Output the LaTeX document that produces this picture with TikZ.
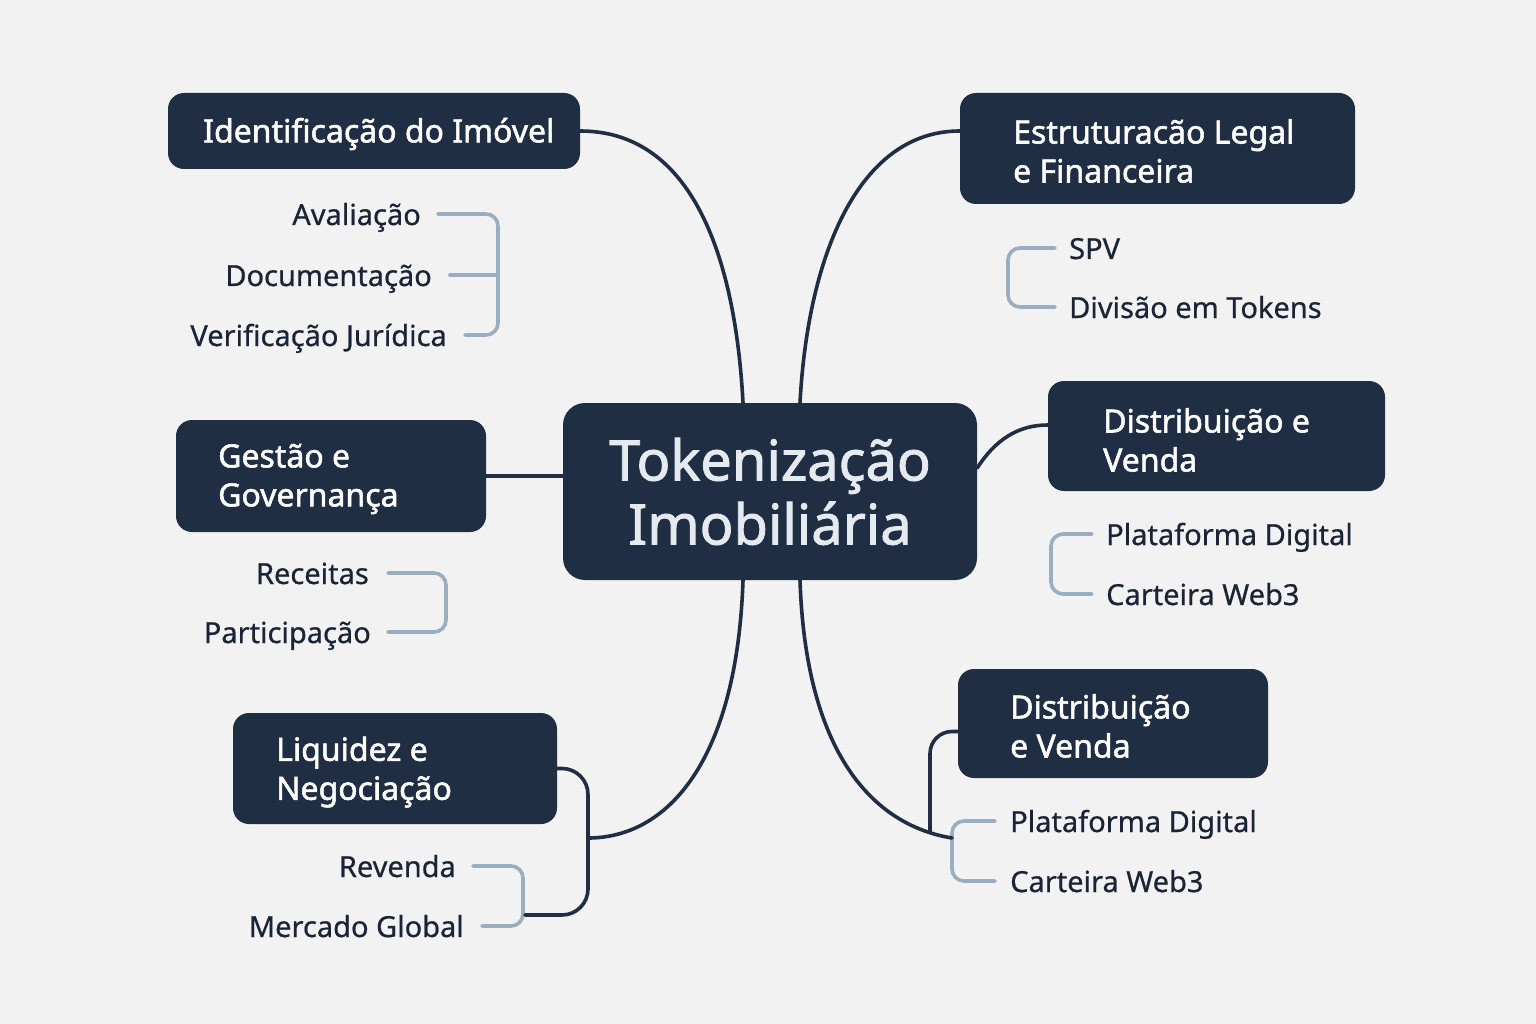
\documentclass[tikz,border=0pt]{standalone}
\usepackage{fontspec}
\setmainfont{Noto Sans}
\newfontfamily\topicfont{Noto Sans}[FakeBold=1.6]
\newfontfamily\leaffont{Noto Sans}[FakeBold=0.6]
\usetikzlibrary{calc}

\definecolor{navy}{HTML}{1F2E42}
\definecolor{hubtext}{HTML}{E4EAEF}
\definecolor{slate}{HTML}{9AAEC1}
\definecolor{ink}{HTML}{1A2436}
\definecolor{paper}{HTML}{F2F2F2}

\begin{document}
\begin{tikzpicture}[x=1pt,y=-1pt,
  hub/.style={fill=navy, rounded corners=22, text=hubtext, align=center, inner sep=0,
    minimum width=414, minimum height=177, font=\topicfont\fontsize{56}{64}\selectfont},
  topic/.style={fill=navy, rounded corners=16, inner sep=0},
  topictext/.style={text=white, align=left, anchor=west, inner sep=0,
    font=\topicfont\fontsize{32}{39}\selectfont},
  leaf/.style={text=ink, inner sep=0, text height=25, text depth=3,
    font=\leaffont\fontsize{29}{34}\selectfont},
  link/.style={draw=navy, line width=3.6, line cap=round},
  brk/.style={draw=slate, line width=3.6, rounded corners=12, line cap=round}]

\fill[paper] (0,0) rectangle (1536,1024);
\useasboundingbox (0,0) rectangle (1536,1024);

% hub
\node[hub] (ctr) at (770,491.5) {Tokenização\\Imobiliária};

% topics
\node[topic, minimum width=412, minimum height=76]  (idn) at (374,131)    {};
\node[topic, minimum width=395, minimum height=111] (str) at (1157.5,148.5) {};
\node[topic, minimum width=337, minimum height=110] (dsa) at (1216.5,436) {};
\node[topic, minimum width=310, minimum height=112] (ges) at (331,476)    {};
\node[topic, minimum width=324, minimum height=111] (liq) at (395,768.5)  {};
\node[topic, minimum width=310, minimum height=109] (dsb) at (1113,723.5) {};

\node[topictext] (idn-t) at (203,134)  {Identificação do Imóvel};
\node[topictext] (str-t) at (1013,151) {Estruturacão Legal\\e Financeira};
\node[topictext] (dsa-t) at (1103,440) {Distribuição e\\Venda};
\node[topictext] (ges-t) at (218,479)  {Gestão e\\Governança};
\node[topictext] (liq-t) at (276,772)  {Liquidez e\\Negociação};
\node[topictext] (dsb-t) at (1010,726) {Distribuição\\e Venda};

% leaves
\node[leaf, anchor=base east] (ava) at (421,225)  {Avaliação};
\node[leaf, anchor=base east] (doc) at (432,286)  {Documentação};
\node[leaf, anchor=base east] (ver) at (447,346)  {Verificação Jurídica};
\node[leaf, anchor=base west] (spv) at (1069,259) {SPV};
\node[leaf, anchor=base west] (tok) at (1069,318) {Divisão em Tokens};
\node[leaf, anchor=base west] (pla) at (1106,545) {Plataforma Digital};
\node[leaf, anchor=base west] (car) at (1106,605) {Carteira Web3};
\node[leaf, anchor=base east] (rec) at (369,584)  {Receitas};
\node[leaf, anchor=base east] (par) at (371,643)  {Participação};
\node[leaf, anchor=base east] (rev) at (456,877)  {Revenda};
\node[leaf, anchor=base east] (mer) at (464,937)  {Mercado Global};
\node[leaf, anchor=base west] (plb) at (1010,832) {Plataforma Digital};
\node[leaf, anchor=base west] (cab) at (1010,892) {Carteira Web3};

% brackets
\coordinate (idnb) at ([xshift=51]ver.east);
\draw[brk] ([xshift=17]ava.east) -| (idnb) -- ([xshift=18]ver.east);
\draw[brk] ([xshift=18]doc.east) -- (idnb |- doc.east);
\draw[brk] ([xshift=-14]spv.west) -| ([xshift=-61]tok.west) -- ([xshift=-14]tok.west);
\draw[brk] ([xshift=-14]pla.west) -| ([xshift=-55]car.west) -- ([xshift=-14]car.west);
\draw[brk] ([xshift=19]rec.east) -| ([xshift=75]par.east) -- ([xshift=17]par.east);
\draw[brk] ([xshift=17]rev.east) -| ([xshift=59]mer.east) -- ([xshift=18]mer.east);
\draw[brk] ([xshift=-15]plb.west) -| ([xshift=-58]cab.west) -- ([xshift=-15]cab.west);

% links
\coordinate (ctr-nw) at ($(ctr.north)+(-27,0)$);
\coordinate (ctr-ne) at ($(ctr.north)+(30,0)$);
\coordinate (ctr-sw) at ($(ctr.south)+(-27,0)$);
\coordinate (ctr-se) at ($(ctr.south)+(30,0)$);
\coordinate (ctr-e)  at ($(ctr.east)+(0,-23.5)$);
\coordinate (liqj)   at (588,838);
\coordinate (liqend) at (525,915);
\coordinate (dsbj)   at (930,832);
\coordinate (dsbend) at (952,838);

\draw[link] (ctr-nw) .. controls +(-8,-150) and +(110,0) .. (idn.east);
\draw[link] (ctr-ne) .. controls +(8,-150) and +(-100,0) .. ($(str.west)+(0,-17.5)$);
\draw[link] (ctr-e) .. controls +(18,-28) and +(-30,0) .. ($(dsa.west)+(0,-11)$);
\draw[link] (ges.east) -- (ges.east -| ctr.west);
\draw[link] (ctr-sw) .. controls +(-6,180) and +(80,0) .. (liqj);
\draw[link, rounded corners=26] (liq.east) -| (liqj) |- (liqend);
\draw[link] (ctr-se) .. controls +(6,180) and +(-74,-12) .. (dsbend);
\draw[link, rounded corners=22] ($(dsb.west)+(0,8)$) -| (dsbj);

\end{tikzpicture}
\end{document}
